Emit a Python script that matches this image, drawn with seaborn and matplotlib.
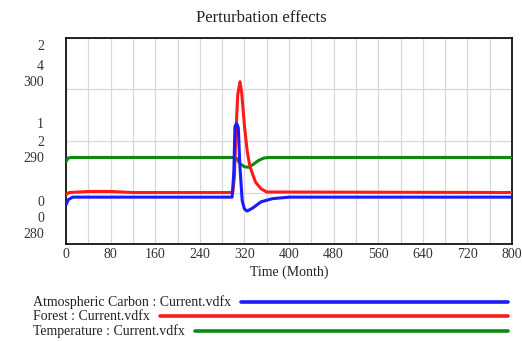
"""
Perturbation effects chart (three series, each on its own scale).
"""

import matplotlib.pyplot as plt
import pandas as pd
import seaborn as sns

CARBON_TIME = [0, 4, 12, 298, 301, 303, 306, 309, 312, 316, 320, 325, 335, 350, 370, 400, 800]
CARBON_VALUES = [0.38, 0.43, 0.455, 0.455, 0.7, 1.14, 1.17, 1.13, 0.75, 0.42, 0.34, 0.32, 0.35, 0.41, 0.44, 0.455, 0.455]

FOREST_TIME = [0, 6, 40, 80, 120, 299, 302, 305, 308, 312, 315, 320, 325, 330, 340, 350, 360, 800]
FOREST_VALUES = [0.96, 1.0, 1.02, 1.02, 1.0, 1.0, 1.3, 2.2, 2.9, 3.15, 2.95, 2.3, 1.8, 1.5, 1.2, 1.07, 1.01, 1.0]

TEMP_TIME = [0, 4, 10, 302, 306, 312, 320, 327, 335, 345, 355, 365, 800]
TEMP_VALUES = [288.0, 288.35, 288.4, 288.4, 288.3, 287.8, 287.5, 287.45, 287.7, 288.1, 288.35, 288.4, 288.4]

SERIES_NAMES = ["Atmospheric Carbon : Current.vdfx", "Forest : Current.vdfx", "Temperature : Current.vdfx"]
SERIES_COLORS = ["#1a1aff", "#ff1a1a", "#118811"]
AXIS_RANGES = [(0, 2), (0, 4), (280, 300)]
AXIS_LABELS = [["2", "1", "0"], ["4", "2", "0"], ["300", "290", "280"]]
X_TICKS = list(range(0, 801, 80))

FONT = "Liberation Serif"


def create_chart() -> None:
    sns.set_style("white")
    plt.rcParams["font.family"] = FONT

    fig = plt.figure(figsize=(5.22, 3.42), dpi=100)
    ax = fig.add_axes([0.1264, 0.2865, 0.8546, 0.6025])

    frames = [
        pd.DataFrame({"t": CARBON_TIME, "v": CARBON_VALUES}),
        pd.DataFrame({"t": FOREST_TIME, "v": FOREST_VALUES}),
        pd.DataFrame({"t": TEMP_TIME, "v": TEMP_VALUES}),
    ]

    ax.set_xlim(0, 800)
    ax.set_ylim(0, 4)

    # series in draw order: temperature, forest, carbon
    for i in [2, 1, 0]:
        tax = ax.twinx()
        tax.set_ylim(*AXIS_RANGES[i])
        tax.set_xlim(0, 800)
        tax.axis("off")
        sns.lineplot(data=frames[i], x="t", y="v", ax=tax, color=SERIES_COLORS[i],
                     linewidth=2.2, legend=False)

    # grid on the base axis (after twinx, which resets left ticks)
    ax.set_xticks(range(0, 801, 40))
    ax.set_yticks([0, 1, 2, 3, 4])
    ax.set_axisbelow(True)
    ax.xaxis.grid(True, color="#d8d8d8", linewidth=0.9)
    ax.yaxis.grid(True, color="#d8d8d8", linewidth=0.9)
    ax.tick_params(axis="both", which="both", left=False, right=False, bottom=False,
                   top=False, labelleft=False, labelbottom=False)
    for s in ax.spines.values():
        s.set_color("black")
        s.set_linewidth(1.2)

    for x in X_TICKS:
        fig.text((66 + x * 446 / 800) / 522, 1 - 255 / 342, str(x),
                 ha="center", va="center", fontsize=10, color="#333333")
    fig.text(289 / 522, 1 - 272 / 342, "Time (Month)", ha="center", va="center",
             fontsize=10, color="#222222")

    # stacked value labels on the left
    label_rows = [(47, 66, 83), (125, 143, 158), (202, 218, 235)]
    for r, rows in enumerate(label_rows):
        for i, ypix in enumerate(rows):
            fig.text(44 / 522, 1 - ypix / 342, AXIS_LABELS[i][r], ha="right",
                     va="center", fontsize=10, color="#333333")

    fig.text(0.5, 1 - 18 / 342, "Perturbation effects", ha="center", va="center",
             fontsize=12, color="#222222")

    # legend rows
    legend_rows = [(302, 241), (316, 160), (331, 195)]
    for i, (ypix, xstart) in enumerate(legend_rows):
        y = 1 - ypix / 342
        fig.text(33 / 522, y, SERIES_NAMES[i], ha="left", va="center",
                 fontsize=10, color="#222222")
        fig.add_artist(plt.Line2D([xstart / 522, 508 / 522], [y, y],
                                  color=SERIES_COLORS[i], linewidth=2.6))

    fig.savefig("out.png", dpi=100)


if __name__ == "__main__":
    create_chart()
